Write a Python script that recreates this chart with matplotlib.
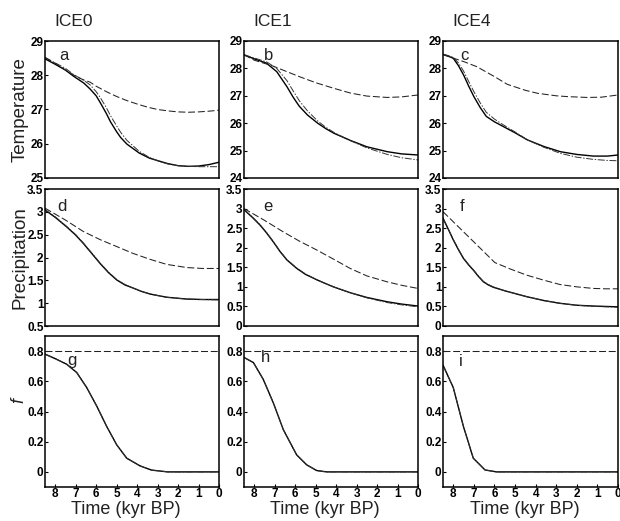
import matplotlib
matplotlib.use("Agg")
import matplotlib.pyplot as plt
from matplotlib.ticker import FuncFormatter

plt.rcParams['lines.scale_dashes'] = False
TICKFONT = ['Liberation Sans Narrow', 'Liberation Sans', 'DejaVu Sans']
LABFONT = ['Liberation Sans', 'DejaVu Sans']

# ---------------- data ----------------
models = ["ICE0", "ICE1", "ICE4"]
row_labels = ["Temperature", "Precipitation", "f"]
panel_letters = ["a", "b", "c", "d", "e", "f", "g", "h", "i"]
x_ticks = [8, 7, 6, 5, 4, 3, 2, 1, 0]

# Temperature
t_T0 = [8.5, 8.0, 7.5, 7.1, 6.6, 6.3, 6.0, 5.8, 5.5, 5.3, 5.0, 4.8, 4.5, 4.2, 3.9, 3.4, 2.9, 2.5, 2.0, 1.5, 1.0, 0.5, 0.0]
T0_solid = [28.48, 28.32, 28.15, 27.97, 27.77, 27.6, 27.4, 27.2, 26.88, 26.64, 26.35, 26.18, 25.99, 25.86, 25.73, 25.58, 25.49, 25.42, 25.36, 25.34, 25.35, 25.39, 25.46]
T0_dashdot = [28.52, 28.36, 28.2, 28.02, 27.85, 27.72, 27.52, 27.35, 27.05, 26.82, 26.52, 26.33, 26.1, 25.94, 25.78, 25.6, 25.48, 25.41, 25.36, 25.34, 25.33, 25.33, 25.33]
t_T0d = [8.5, 8.0, 7.5, 7.0, 6.6, 6.3, 6.0, 5.5, 5.0, 4.5, 4.0, 3.5, 3.0, 2.5, 2.0, 1.5, 1.0, 0.5, 0.0]
T0_dashed = [28.52, 28.35, 28.15, 27.97, 27.86, 27.8, 27.68, 27.52, 27.38, 27.26, 27.16, 27.07, 27.0, 26.96, 26.93, 26.92, 26.93, 26.95, 26.98]

t_T1 = [8.5, 8.0, 7.4, 6.9, 6.4, 6.1, 5.8, 5.4, 4.9, 4.5, 4.1, 3.3, 2.5, 1.5, 0.8, 0.0]
T1_solid = [28.49, 28.35, 28.19, 27.88, 27.33, 26.95, 26.62, 26.3, 26.0, 25.8, 25.63, 25.37, 25.14, 24.96, 24.88, 24.84]
T1_dashdot = [28.5, 28.38, 28.24, 28.0, 27.55, 27.18, 26.82, 26.45, 26.08, 25.85, 25.66, 25.36, 25.1, 24.86, 24.74, 24.66]
t_T1d = [8.5, 8.0, 7.1, 6.4, 5.8, 5.0, 4.1, 3.3, 2.5, 1.5, 0.8, 0.0]
T1_dashed = [28.5, 28.3, 28.09, 27.88, 27.7, 27.48, 27.27, 27.1, 26.99, 26.94, 26.96, 27.03]

t_T4 = [8.5, 8.25, 8.0, 7.75, 7.5, 7.25, 7.0, 6.7, 6.4, 6.0, 5.7, 5.0, 4.4, 3.6, 2.8, 2.0, 1.2, 0.5, 0.0]
T4_solid = [28.51, 28.45, 28.37, 28.1, 27.76, 27.35, 26.97, 26.58, 26.25, 26.05, 25.93, 25.65, 25.39, 25.15, 24.96, 24.86, 24.8, 24.8, 24.84]
T4_dashdot = [28.52, 28.47, 28.4, 28.2, 27.9, 27.52, 27.15, 26.75, 26.4, 26.15, 26.0, 25.68, 25.39, 25.12, 24.9, 24.76, 24.68, 24.64, 24.63]
t_T4d = [8.5, 7.5, 6.85, 6.0, 5.38, 4.5, 3.9, 3.0, 2.45, 1.5, 0.8, 0.0]
T4_dashed = [28.5, 28.25, 28.06, 27.7, 27.42, 27.2, 27.09, 27.0, 26.97, 26.94, 26.95, 27.03]

# Precipitation
t_P0 = [8.5, 8.0, 7.44, 7.0, 6.63, 6.2, 5.81, 5.4, 5.0, 4.6, 4.19, 3.8, 3.37, 2.56, 1.58, 0.8, 0.0]
P0_solid = [3.04, 2.88, 2.67, 2.49, 2.31, 2.08, 1.87, 1.67, 1.51, 1.40, 1.33, 1.26, 1.20, 1.13, 1.09, 1.08, 1.08]
P0_dashdot = [3.05, 2.89, 2.68, 2.5, 2.32, 2.09, 1.88, 1.68, 1.52, 1.41, 1.33, 1.26, 1.2, 1.13, 1.09, 1.08, 1.07]
t_P0d = [8.5, 7.5, 6.63, 5.8, 5.0, 4.2, 3.37, 2.56, 1.58, 0.8, 0.0]
P0_dashed = [3.08, 2.82, 2.57, 2.39, 2.24, 2.09, 1.96, 1.85, 1.78, 1.76, 1.76]

t_P1 = [8.5, 8.1, 7.72, 7.4, 7.07, 6.75, 6.41, 6.1, 5.92, 5.5, 4.94, 4.5, 4.13, 3.31, 2.5, 1.52, 0.8, 0.0]
P1_solid = [2.97, 2.78, 2.58, 2.38, 2.15, 1.91, 1.69, 1.55, 1.47, 1.32, 1.18, 1.08, 1.0, 0.85, 0.73, 0.62, 0.56, 0.51]
P1_dashdot = [2.98, 2.79, 2.59, 2.39, 2.16, 1.92, 1.70, 1.56, 1.48, 1.33, 1.18, 1.08, 1.0, 0.85, 0.72, 0.60, 0.54, 0.49]
t_P1d = [8.5, 7.5, 6.6, 5.8, 4.94, 4.1, 3.31, 2.5, 1.52, 0.8, 0.0]
P1_dashed = [3.0, 2.7, 2.41, 2.17, 1.94, 1.7, 1.47, 1.28, 1.13, 1.04, 0.96]

t_P4 = [8.5, 8.25, 8.0, 7.75, 7.51, 7.27, 7.03, 6.8, 6.54, 6.3, 6.06, 5.5, 4.44, 3.6, 2.82, 2.0, 1.2, 0.6, 0.0]
P4_solid = [2.75, 2.48, 2.20, 1.95, 1.73, 1.57, 1.43, 1.28, 1.13, 1.05, 0.99, 0.9, 0.75, 0.65, 0.58, 0.53, 0.51, 0.5, 0.49]
P4_dashdot = [2.76, 2.49, 2.21, 1.96, 1.74, 1.58, 1.44, 1.29, 1.14, 1.06, 1.0, 0.9, 0.75, 0.65, 0.58, 0.53, 0.5, 0.49, 0.48]
t_P4d = [8.5, 5.98, 5.2, 4.44, 3.6, 2.82, 2.0, 1.2, 0.6, 0.0]
P4_dashed = [2.92, 1.62, 1.45, 1.30, 1.17, 1.06, 1.0, 0.96, 0.95, 0.95]

# f
t_f0 = [8.5, 8.0, 7.44, 6.95, 6.46, 5.97, 5.49, 5.0, 4.51, 3.86, 3.3, 2.5, 0.0]
f0_solid = [0.78, 0.75, 0.713, 0.658, 0.558, 0.435, 0.302, 0.18, 0.091, 0.04, 0.012, 0.0, 0.0]
t_f1 = [8.5, 8.04, 7.56, 7.07, 6.58, 5.93, 5.44, 4.95, 4.46, 0.0]
f1_solid = [0.758, 0.724, 0.613, 0.458, 0.28, 0.113, 0.047, 0.009, 0.0, 0.0]
t_f4 = [8.5, 8.0, 7.51, 7.03, 6.46, 5.9, 0.0]
f4_solid = [0.707, 0.558, 0.302, 0.091, 0.013, 0.0, 0.0]
t_fd = [8.5, 0.0]
f_dashed = [0.8, 0.8]

# y axis settings per panel
ylims = [[(25, 29), (24, 29), (24, 29)],
         [(0.5, 3.5), (0, 3.5), (0, 3.5)],
         [(-0.1, 0.9), (-0.1, 0.9), (-0.1, 0.9)]]
yticks = [[[25, 26, 27, 28, 29], [24, 25, 26, 27, 28, 29], [24, 25, 26, 27, 28, 29]],
          [[0.5, 1, 1.5, 2, 2.5, 3, 3.5], [0, 0.5, 1, 1.5, 2, 2.5, 3, 3.5], [0, 0.5, 1, 1.5, 2, 2.5, 3, 3.5]],
          [[0, 0.2, 0.4, 0.6, 0.8]] * 3]

series = [
    [(t_T0, T0_solid, t_T0, T0_dashdot, t_T0d, T0_dashed),
     (t_T1, T1_solid, t_T1, T1_dashdot, t_T1d, T1_dashed),
     (t_T4, T4_solid, t_T4, T4_dashdot, t_T4d, T4_dashed)],
    [(t_P0, P0_solid, t_P0, P0_dashdot, t_P0d, P0_dashed),
     (t_P1, P1_solid, t_P1, P1_dashdot, t_P1d, P1_dashed),
     (t_P4, P4_solid, t_P4, P4_dashdot, t_P4d, P4_dashed)],
    [(t_f0, f0_solid, t_f0, f0_solid, t_fd, f_dashed),
     (t_f1, f1_solid, t_f1, f1_solid, t_fd, f_dashed),
     (t_f4, f4_solid, t_f4, f4_solid, t_fd, f_dashed)],
]

# ---------------- layout ----------------
W, H = 620, 521
fig = plt.figure(figsize=(W / 100, H / 100), dpi=100)
col_px = [(45, 219), (244, 418), (443, 618)]
row_px = [(41, 178), (189, 326), (336, 487)]
letter_off = [[(19, 14), (25, 14), (21, 14)],
              [(17, 17), (24, 17), (19, 17)],
              [(27, 24), (21, 22), (18, 25)]]

fmt = FuncFormatter(lambda v, p: "%g" % v)

for r in range(3):
    for c in range(3):
        x0, x1 = col_px[c]
        y0, y1 = row_px[r]
        ax = fig.add_axes([x0 / W, 1 - y1 / H, (x1 - x0) / W, (y1 - y0) / H])
        ts, ys, td, yd, tdd, ydd = series[r][c]
        ax.plot(ts, ys, color='black', lw=1.0, solid_joinstyle='round')
        ax.plot(td, yd, color='#333333', lw=0.7, dashes=(5, 1.2, 1, 1.2))
        ax.plot(tdd, ydd, color='#222222', lw=0.75, dashes=(5, 2))
        ax.set_xlim(8.5, 0)
        ax.set_ylim(*ylims[r][c])
        ax.set_yticks(yticks[r][c])
        ax.yaxis.set_major_formatter(fmt)
        ax.set_xticks(x_ticks)
        for s in ax.spines.values():
            s.set_linewidth(1.1)
        ax.tick_params(axis='both', direction='in', length=2, width=0.8, pad=1,
                       labelsize=8.5)
        if r < 2:
            ax.tick_params(axis='x', bottom=False, labelbottom=False)
        for lab in ax.get_xticklabels() + ax.get_yticklabels():
            lab.set_fontfamily(TICKFONT)
            lab.set_fontweight('bold')
        lx, ly = letter_off[r][c]
        ax.text(lx / (x1 - x0), 1 - ly / (y1 - y0), panel_letters[r * 3 + c],
                transform=ax.transAxes, ha='center', va='center',
                fontsize=12, family=LABFONT, color='#222222')
        if r == 0:
            fig.text((x0 + 29) / W, 1 - 21 / H, models[c], ha='center', va='center',
                     fontsize=12.5, family=LABFONT, color='#222222')
        if r == 2:
            fig.text(((x0 + x1) / 2 - 6) / W, 1 - 509 / H, "Time (kyr BP)",
                     ha='center', va='center', fontsize=13, family=LABFONT,
                     color='#222222')
        if c == 0:
            yc = (y0 + y1) / 2
            if r == 2:
                fig.text(19 / W, 1 - (yc - 11) / H, row_labels[r], rotation=90,
                         ha='center', va='center', fontsize=13, style='italic',
                         family=LABFONT, color='#222222')
            else:
                fig.text(20 / W, 1 - yc / H, row_labels[r], rotation=90,
                         ha='center', va='center', fontsize=13.5, family=LABFONT,
                         color='#222222')

fig.savefig("out.png", dpi=100)
